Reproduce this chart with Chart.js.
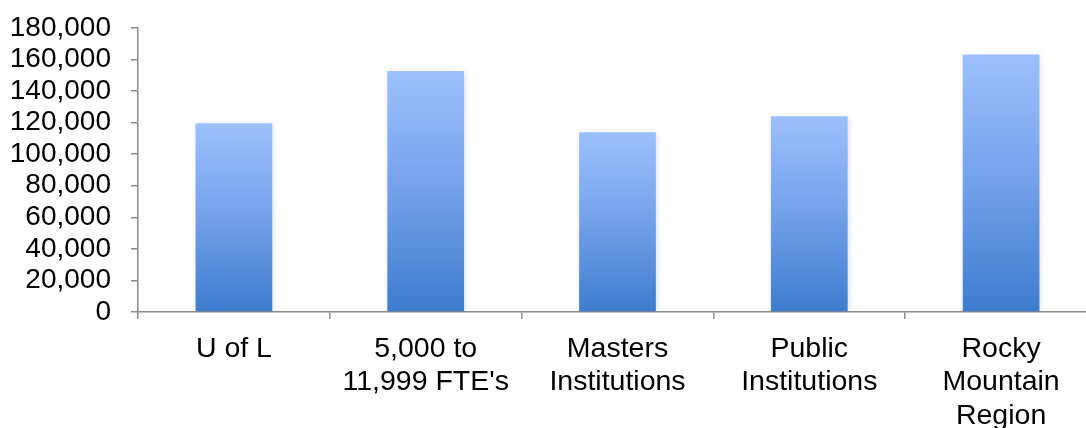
<!DOCTYPE html>
<html>
<head>
<meta charset="utf-8">
<script src="https://cdn.jsdelivr.net/npm/chart.js@4"></script>
<style>
html,body{margin:0;padding:0;background:#fff;overflow:hidden;}
#wrap{width:1086px;height:428px;overflow:hidden;}
</style>
</head>
<body>
<div id="wrap"><canvas id="c" width="1097" height="428"></canvas></div>
<script>
const categories = [["U of L"], ["5,000 to", "11,999 FTE's"], ["Masters", "Institutions"], ["Public", "Institutions"], ["Rocky", "Mountain", "Region"]];
const values = [119700, 152700, 113900, 124000, 163200];
const yTicks = [0, 20000, 40000, 60000, 80000, 100000, 120000, 140000, 160000, 180000];

function barGradient(ctx) {
  const chart = ctx.chart;
  if (!chart.chartArea || ctx.type !== 'data') return '#6a9ae6';
  const y = chart.scales.y;
  const top = y.getPixelForValue(ctx.parsed.y);
  const base = y.getPixelForValue(0);
  if (!isFinite(top) || !isFinite(base) || top === base) return '#6a9ae6';
  const g = chart.ctx.createLinearGradient(0, top, 0, base);
  g.addColorStop(0, 'rgb(156,192,252)');
  g.addColorStop(0.45, 'rgb(120,164,236)');
  g.addColorStop(1, 'rgb(62,124,206)');
  return g;
}

const shadowPlugin = {
  id: 'shadow',
  beforeDatasetsDraw(chart) {
    chart.ctx.save();
    chart.ctx.shadowColor = 'rgba(0,0,0,0.12)';
    chart.ctx.shadowBlur = 6;
    chart.ctx.shadowOffsetX = 1;
    chart.ctx.shadowOffsetY = 1;
  },
  afterDatasetsDraw(chart) {
    chart.ctx.restore();
  }
};

const FONT = '"Liberation Sans", Arial, sans-serif';

new Chart(document.getElementById('c'), {
  type: 'bar',
  data: {
    labels: categories,
    datasets: [{
      data: values,
      backgroundColor: barGradient,
      borderWidth: 0,
      barPercentage: 0.4,
      categoryPercentage: 1.0
    }]
  },
  plugins: [shadowPlugin],
  options: {
    responsive: false,
    animation: false,
    devicePixelRatio: 1,
    layout: { padding: { left: 10, right: 0, top: 28, bottom: 0 } },
    plugins: { legend: { display: false }, tooltip: { enabled: false } },
    scales: {
      y: {
        min: 0,
        max: 180000,
        afterBuildTicks(scale) { scale.ticks = yTicks.map(v => ({ value: v })); },
        afterFit(scale) { scale.width = 128; scale.paddingTop = 0; scale.paddingBottom = 0; },
        ticks: {
          color: '#000',
          padding: 20,
          autoSkip: false,
          font: { family: FONT, size: 28, lineHeight: 1.16 },
          callback: v => v.toLocaleString('en-US')
        },
        grid: { drawOnChartArea: false, drawTicks: true, tickLength: 7, color: '#8c8c8c', lineWidth: 1.5 },
        border: { color: '#8c8c8c', width: 1.5 }
      },
      x: {
        afterFit(scale) { scale.height = 116; scale.paddingLeft = 0; scale.paddingRight = 0; },
        ticks: {
          color: '#000',
          padding: 14,
          maxRotation: 0,
          autoSkip: false,
          font: { family: FONT, size: 28.5, lineHeight: 1.16 }
        },
        grid: { drawOnChartArea: false, drawTicks: true, tickLength: 7, color: '#8c8c8c', lineWidth: 1.5, offset: true },
        border: { color: '#8c8c8c', width: 1.5 }
      }
    }
  }
});
</script>
</body>
</html>
